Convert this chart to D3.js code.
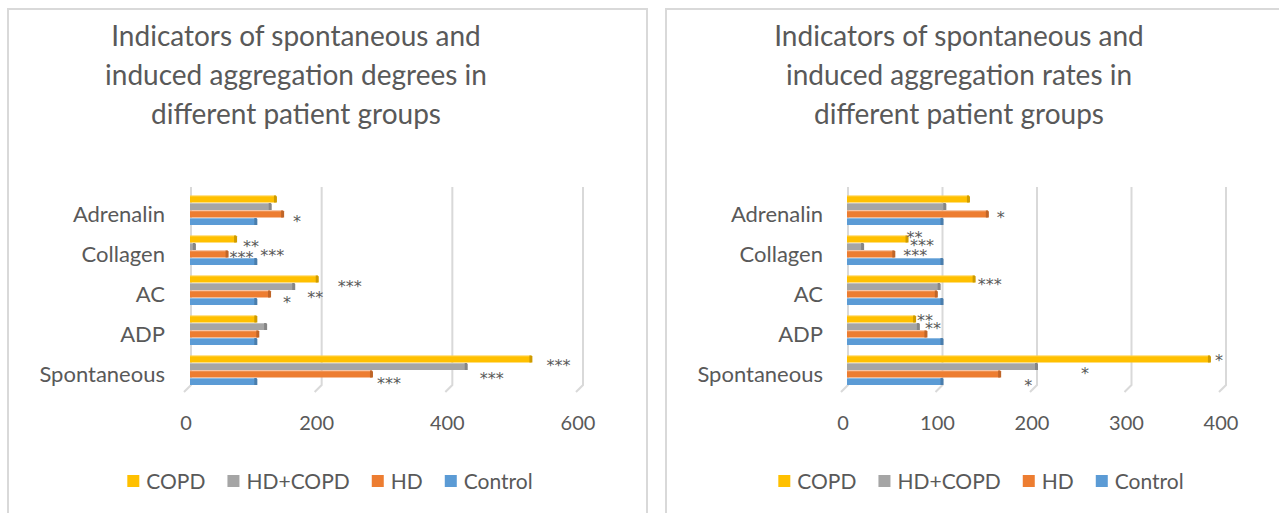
<!DOCTYPE html>
<html>
<head>
<meta charset="utf-8">
<script src="https://cdn.jsdelivr.net/npm/d3@7"></script>
<style>
  body { margin: 0; background: #fff; }
  svg text { font-family: Lato, "Open Sans", sans-serif; fill: #595959; }
  svg text.mark { font-family: "DejaVu Sans", sans-serif; }
</style>
</head>
<body>
<div class="canvas"></div>
<script>
// categories top -> bottom, as they appear on the chart
const categories = ['Adrenalin', 'Collagen', 'AC', 'ADP', 'Spontaneous'];
const seriesNames = ['COPD', 'HD+COPD', 'HD', 'Control'];
const seriesColors = ['#FFC000', '#A5A5A5', '#ED7D31', '#5B9BD5'];

// left chart: aggregation degrees
const degreeCOPD    = [130, 69, 194, 100, 521];
const degreeHDCOPD  = [122, 6, 158, 115, 422];
const degreeHD      = [141, 56, 121, 103, 277];
const degreeControl = [100, 100, 100, 100, 100];
const degreeTicks   = [0, 200, 400, 600];

// right chart: aggregation rates
const rateCOPD    = [128, 63, 134, 71, 383];
const rateHDCOPD  = [103, 16, 97, 75, 200];
const rateHD      = [148, 49, 94, 83, 161];
const rateControl = [100, 100, 100, 100, 100];
const rateTicks   = [0, 100, 200, 300, 400];

// significance marks per series
const degreeMarksCOPD    = ['', '**', '***', '', '***'];
const degreeMarksHDCOPD  = ['', '', '**', '', '***'];
const degreeMarksHD      = ['*', '***', '*', '', '***'];
const degreeMarksControl = ['', '***', '', '', ''];

const rateMarksCOPD    = ['', '**', '***', '**', '*'];
const rateMarksHDCOPD  = ['', '***', '', '**', '*'];
const rateMarksHD      = ['*', '***', '', '', '*'];
const rateMarksControl = ['', '', '', '', ''];

// manual nudges of the mark labels (like dragged excel data labels)
const degreeNudge = {
    'Adrenalin|HD': [10, 4], 'Collagen|COPD': [7, 4], 'Collagen|HD': [2, 0],
    'Collagen|Control': [4, -9], 'AC|COPD': [20, 4], 'AC|HD+COPD': [13, 8],
    'AC|HD': [13, 5], 'Spontaneous|COPD': [15, 3], 'Spontaneous|HD+COPD': [13, 9],
    'Spontaneous|HD': [5, 6]
};
const rateNudge = {
    'Adrenalin|HD': [9, 0], 'Collagen|COPD': [-1, -5], 'Collagen|HD+COPD': [47, -4],
    'Collagen|HD': [9, -2], 'AC|COPD': [3, 2], 'ADP|COPD': [2, -2], 'ADP|HD+COPD': [6, -1],
    'Spontaneous|COPD': [5, -2], 'Spontaneous|HD+COPD': [44, 4], 'Spontaneous|HD': [24, 8]
};

const svg = d3.select('.canvas')
    .append('svg')
        .attr('width', 1279)
        .attr('height', 513);

const drawChart = opts => {
    const g = svg.append('g');

    // panel border
    g.append('rect')
        .attr('x', opts.panel[0]).attr('y', 9)
        .attr('width', opts.panel[1] - opts.panel[0]).attr('height', 520)
        .attr('fill', 'none').attr('stroke', '#d9d9d9').attr('stroke-width', 2);

    // title
    g.append('text')
        .attr('x', opts.titleX).attr('y', 46)
        .attr('text-anchor', 'middle')
        .style('font-size', '28px')
        .selectAll('tspan')
        .data(opts.title)
        .enter().append('tspan')
            .attr('x', opts.titleX)
            .attr('dy', (d, i) => i === 0 ? 0 : 39)
            .text(d => d);

    const x = d3.scaleLinear()
        .domain([0, d3.max(opts.ticks)])
        .range(opts.xRange);

    const y = d3.scaleBand()
        .domain(categories)
        .range([190, 390])
        .paddingInner(0.25)
        .paddingOuter(0.125);

    const ySub = d3.scaleBand()
        .domain(seriesNames)
        .range([0, y.bandwidth()]);

    // gridlines with the 3d foot
    g.append('g').selectAll('path')
        .data(opts.ticks)
        .enter().append('path')
            .attr('d', d => `M${x(d)},187 V385 L${x(d) - 7},392`)
            .attr('fill', 'none')
            .attr('stroke', '#d9d9d9')
            .attr('stroke-width', 2);

    // tick labels
    g.selectAll('text.tick')
        .data(opts.ticks)
        .enter().append('text')
            .attr('class', 'tick')
            .attr('x', d => x(d) - 5)
            .attr('y', 430)
            .attr('text-anchor', 'middle')
            .style('font-size', '20px')
            .text(d => d);

    // category labels
    g.selectAll('text.cat')
        .data(categories)
        .enter().append('text')
            .attr('class', 'cat')
            .attr('x', opts.catX)
            .attr('y', d => y(d) + y.bandwidth() / 2 + 12)
            .attr('text-anchor', 'end')
            .style('font-size', '22px')
            .text(d => d);

    // bars
    const rows = [];
    categories.forEach((c, i) => {
        seriesNames.forEach((s, j) => {
            rows.push({ cat: c, name: s, value: opts.values[j][i], mark: opts.marks[j][i], color: seriesColors[j] });
        });
    });

    const bars = g.append('g').selectAll('g')
        .data(rows)
        .enter().append('g')
            .attr('transform', d => `translate(0, ${y(d.cat) + ySub(d.name)})`);

    const bh = ySub.bandwidth();
    bars.append('rect')
        .attr('x', x(0) - 1)
        .attr('y', 0.5)
        .attr('width', d => x(d.value) - x(0) + 1)
        .attr('height', bh - 0.5)
        .attr('fill', d => d.color);

    // top light edge
    bars.append('rect')
        .attr('x', x(0) - 1)
        .attr('y', 0.5)
        .attr('width', d => x(d.value) - x(0) + 1)
        .attr('height', 1)
        .attr('fill', '#fff')
        .attr('opacity', 0.3);

    // darker slanted end of the 3d bar
    bars.append('path')
        .attr('d', d => {
            const xe = x(d.value);
            return `M${xe - 2},0.5 L${xe},0.5 L${xe + 1},1.5 L${xe + 1},${bh} L${xe - 2},${bh} Z`;
        })
        .attr('fill', d => d3.color(d.color).darker(0.6));

    // significance marks
    bars.filter(d => d.mark !== '')
        .append('text')
            .attr('class', 'mark')
            .attr('x', d => x(d.value) + (opts.nudge[d.cat + '|' + d.name] || [6, 0])[0])
            .attr('y', d => bh / 2 + (opts.nudge[d.cat + '|' + d.name] || [6, 0])[1] + 9)
            .style('font-size', '16px')
            .text(d => d.mark);

    // legend
    const legend = g.append('g');
    const items = legend.selectAll('g')
        .data(seriesNames)
        .enter().append('g');
    items.append('rect')
        .attr('width', 12).attr('height', 12)
        .attr('y', -6)
        .attr('fill', (d, i) => seriesColors[i]);
    items.append('text')
        .attr('x', 19)
        .attr('y', 8)
        .style('font-size', '21px')
        .text(d => d);

    let cx = 0;
    items.each(function() {
        const w = this.querySelector('text').getComputedTextLength();
        d3.select(this).attr('transform', `translate(${cx}, 0)`);
        cx += 19 + w + 22;
    });
    const total = cx - 22;
    legend.attr('transform', `translate(${opts.legendCenter - total / 2}, 481)`);
};

drawChart({
    panel: [8, 647],
    title: ['Indicators of spontaneous and', 'induced aggregation degrees in', 'different patient groups'],
    titleX: 296,
    ticks: degreeTicks,
    xRange: [191, 583],
    catX: 165,
    values: [degreeCOPD, degreeHDCOPD, degreeHD, degreeControl],
    marks: [degreeMarksCOPD, degreeMarksHDCOPD, degreeMarksHD, degreeMarksControl],
    nudge: degreeNudge,
    legendCenter: 330
});

drawChart({
    panel: [666, 1290],
    title: ['Indicators of spontaneous and', 'induced aggregation rates in', 'different patient groups'],
    titleX: 959,
    ticks: rateTicks,
    xRange: [848, 1226],
    catX: 823,
    values: [rateCOPD, rateHDCOPD, rateHD, rateControl],
    marks: [rateMarksCOPD, rateMarksHDCOPD, rateMarksHD, rateMarksControl],
    nudge: rateNudge,
    legendCenter: 981
});
</script>
</body>
</html>
